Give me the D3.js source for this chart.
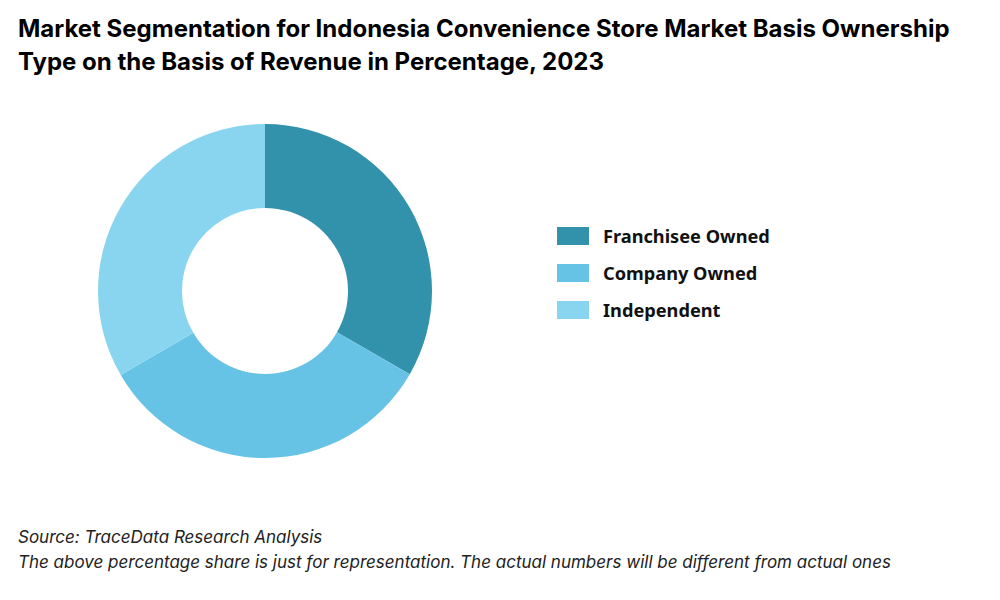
<!DOCTYPE html>
<html><head><meta charset="utf-8">
<script src="https://cdn.jsdelivr.net/npm/d3@7"></script>
<style>body{margin:0;background:#fff}</style>
</head><body>
<svg id="c" width="1000" height="600"></svg>
<script>
const categories = ["Franchisee Owned", "Company Owned", "Independent"];
const values = [33.3, 33.3, 33.4];
const colors = ["#3291AB", "#66C3E6", "#89D5F0"];

const svg = d3.select("#c");
const title = ["Market Segmentation for Indonesia Convenience Store Market Basis Ownership", "Type on the Basis of Revenue in Percentage, 2023"];
svg.selectAll("text.t").data(title).join("text")
  .attr("x", 18).attr("y", (d,i)=>37+i*33)
  .attr("font-family","Inter, Roboto, sans-serif").attr("font-weight","bold")
  .attr("font-size",24).attr("fill","#000").text(d=>d);

const g = svg.append("g").attr("transform","translate(265,291)");
const pie = d3.pie().sort(null).value(d=>d)(values);
const arc = d3.arc().innerRadius(83).outerRadius(167);
g.selectAll("path").data(pie).join("path").attr("d",arc).attr("fill",(d,i)=>colors[i]);

const lg = svg.append("g").attr("transform","translate(557,227)");
categories.forEach((c,i)=>{
  lg.append("rect").attr("x",0).attr("y",i*37).attr("width",32).attr("height",18).attr("fill",colors[i]);
  lg.append("text").attr("x",46).attr("y",i*37+16).attr("font-family","'Noto Sans', sans-serif")
    .attr("font-weight","bold").attr("font-size",18.2).attr("fill","#111").text(c);
});

const notes = ["Source: TraceData Research Analysis","The above percentage share is just for representation. The actual numbers will be different from actual ones"];
svg.selectAll("text.n").data(notes).join("text")
  .attr("x",18).attr("y",(d,i)=>543+i*25)
  .attr("font-family","Inter, Roboto, sans-serif").attr("font-style","italic")
  .attr("font-size",17).attr("fill","#222").text(d=>d);
</script>
</body></html>
